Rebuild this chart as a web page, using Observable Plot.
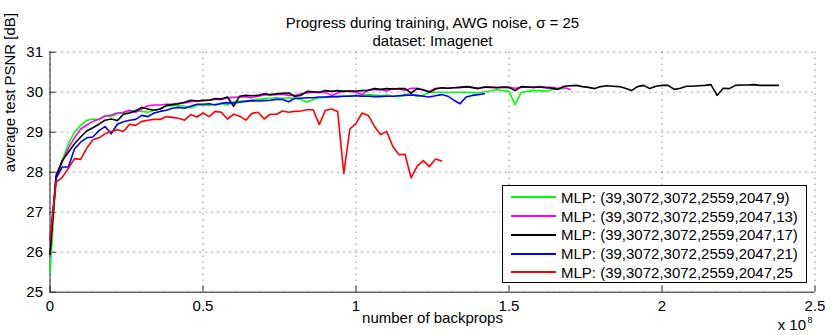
<!DOCTYPE html>
<html><head><meta charset="utf-8">
<script src="https://cdn.jsdelivr.net/npm/d3@7"></script>
<script src="https://cdn.jsdelivr.net/npm/@observablehq/plot@0.6"></script>
<style>
body{margin:0;background:#fff;font-family:"Liberation Sans",Arial,sans-serif;}
#wrap{position:relative;width:830px;height:335px;overflow:hidden;}
#legend{position:absolute;left:502px;top:185px;width:303px;height:96px;border:1px solid #000;background:#fff;}
.row{position:absolute;left:0;height:19px;display:flex;align-items:center;font-size:15px;white-space:nowrap;color:#000;}
.sw{width:45px;height:2px;margin-left:8px;margin-right:5px;}
</style></head><body><div id="wrap"></div>
<script>
// sampling interval of the evaluations (backprops)
const STEP = 2e6;

const seriesNames = [
  "MLP: (39,3072,3072,2559,2047,9)",
  "MLP: (39,3072,3072,2559,2047,13)",
  "MLP: (39,3072,3072,2559,2047,17)",
  "MLP: (39,3072,3072,2559,2047,21)",
  "MLP: (39,3072,3072,2559,2047,25"
];
const seriesColors = ["#00ff00", "#ff00ff", "#000000", "#0000ff", "#ff0000"];

const green = [25.5,27.85,28.3,28.71,29.0,29.17,29.29,29.33,29.31,29.42,29.39,29.46,29.48,29.52,29.55,29.52,29.5,29.55,29.58,29.65,
  29.66,29.67,29.65,29.61,29.67,29.68,29.67,29.7,29.72,29.68,29.76,29.78,29.78,29.8,29.82,29.84,29.85,29.86,29.85,29.86,
  29.84,29.82,29.75,29.82,29.86,29.87,29.88,29.89,29.9,29.91,29.92,29.92,29.94,29.93,29.91,29.93,29.9,29.89,29.95,29.96,
  29.89,29.93,30.0,30.0,30.0,29.99,30.0,30.0,30.0,29.99,29.98,30.01,30.03,30.06,30.04,30.02,29.69,30.0,30.02,30.04,
  30.04,30.02,30.06,30.08,30.09];

const magenta = [25.9,27.95,28.25,28.6,28.86,29.08,29.18,29.27,29.33,29.4,29.43,29.48,29.5,29.55,29.5,29.58,29.66,29.68,29.68,29.7,
  29.7,29.72,29.73,29.76,29.78,29.78,29.8,29.82,29.82,29.86,29.87,29.88,29.88,29.86,29.9,29.93,29.93,29.94,29.95,29.92,
  29.92,29.96,29.98,30.0,29.99,30.0,29.92,29.98,30.03,30.02,30.0,29.94,30.05,30.07,30.06,30.03,30.09,30.08,30.05,30.1,
  30.1,30.05,30.02,30.1,30.1,30.1,30.11,30.12,30.13,30.11,30.1,30.12,30.13,30.12,30.13,30.12,30.1,30.12,30.13,30.12,
  30.14,30.13,30.12,30.1,30.12,30.07];

const black = [25.95,27.9,28.29,28.5,28.71,28.88,29.03,29.11,29.2,29.3,29.33,29.29,29.45,29.48,29.53,29.62,29.58,29.55,29.58,29.67,
  29.69,29.71,29.75,29.8,29.78,29.8,29.8,29.84,29.83,29.88,29.65,29.9,29.92,29.91,29.92,29.96,29.94,29.96,29.97,29.98,
  29.9,29.92,30.02,30.01,30.0,30.04,30.02,30.04,30.02,30.03,30.03,30.04,30.05,30.09,30.07,30.09,30.08,30.09,30.09,29.98,
  30.09,30.06,30.0,30.08,30.11,30.1,30.11,30.12,30.14,30.12,30.09,30.13,30.12,30.11,30.12,30.12,30.04,30.14,30.13,30.12,
  30.13,30.11,30.1,30.07,30.15,30.16,30.17,30.14,30.12,30.09,30.14,30.16,30.15,30.14,30.1,30.04,30.14,30.17,30.09,30.15,
  30.17,30.17,30.07,30.1,30.15,30.15,30.16,30.17,30.19,29.92,30.1,30.09,30.17,30.18,30.18,30.19,30.17,30.17,30.17,30.17];

const blue = [26.3,27.85,28.13,28.13,28.58,28.75,28.86,28.88,29.04,29.14,28.96,29.2,29.26,29.3,29.32,29.42,29.39,29.48,29.52,29.55,
  29.6,29.62,29.6,29.65,29.7,29.7,29.71,29.68,29.72,29.74,29.73,29.75,29.77,29.79,29.78,29.79,29.8,29.82,29.82,29.76,
  29.85,29.85,29.86,29.86,29.88,29.88,29.89,29.89,29.9,29.9,29.91,29.9,29.9,29.89,29.89,29.9,29.9,29.91,29.92,29.93,
  29.92,29.9,29.88,29.91,29.94,29.9,29.8,29.71,29.88,29.92,29.94,29.96];

const red = [26.3,27.75,27.87,28.1,28.34,28.32,28.6,28.81,28.86,28.96,29.02,29.06,29.02,29.2,29.17,29.27,29.3,29.32,29.32,29.39,
  29.37,29.35,29.3,29.44,29.38,29.48,29.39,29.52,29.5,29.33,29.45,29.4,29.3,29.47,29.5,29.33,29.45,29.45,29.53,29.5,
  29.52,29.53,29.56,29.56,29.19,29.55,29.58,29.52,27.97,29.08,29.22,29.48,29.42,29.15,28.94,29.02,28.65,28.44,28.45,27.86,
  28.15,28.29,28.14,28.33,28.28];

const xTicks = [0, 0.5e8, 1e8, 1.5e8, 2e8, 2.5e8];
const yTicks = [25, 26, 27, 28, 29, 30, 31];

const titleLines = ["Progress during training, AWG noise, \u03c3 = 25", "dataset: Imagenet"];
const xLabel = "number of backprops";
const yLabel = "average test PSNR [dB]";
const xExponent = ["x 10", "8"];

const allSeries = [green, magenta, black, blue, red];
const rows = [];
allSeries.forEach((vals, s) => vals.forEach((v, i) => rows.push({series: seriesNames[s], x: i * STEP, y: v})));

const FONT = "'Liberation Sans', Arial, sans-serif";
const gridStyle = {stroke: "#555", strokeOpacity: 1, strokeWidth: 1, strokeDasharray: "1,5"};

const chart = Plot.plot({
  width: 830, height: 335,
  marginLeft: 49.5, marginRight: 15.5, marginTop: 51.7, marginBottom: 43.3,
  style: {fontFamily: FONT, fontSize: "15px", background: "white", color: "#000"},
  x: {domain: [0, 2.5e8]},
  y: {domain: [25, 31]},
  color: {domain: seriesNames, range: seriesColors},
  marks: [
    Plot.gridX(xTicks, gridStyle),
    Plot.gridY(yTicks, gridStyle),
    Plot.axisX(xTicks, {tickSize: -6, tickPadding: 14, tickFormat: d => String(d / 1e8), label: null, stroke: "#222", fontSize: 15}),
    Plot.axisY(yTicks, {tickSize: -6, tickPadding: 13, tickFormat: d => String(d), label: null, stroke: "#222", fontSize: 15}),
    Plot.ruleX([0], {stroke: "#222"}),
    Plot.ruleY([25], {stroke: "#222"}),
    Plot.line(rows, {x: "x", y: "y", z: "series", stroke: "series", strokeWidth: 1.6}),
    Plot.text([titleLines[0]], {text: d => d, frameAnchor: "top", dy: -35, fontSize: 15}),
    Plot.text([titleLines[1]], {text: d => d, frameAnchor: "top", dy: -17, fontSize: 15}),
    Plot.text([xLabel], {text: d => d, frameAnchor: "bottom", dy: 31, fontSize: 15}),
    Plot.text([yLabel], {text: d => d, frameAnchor: "left", dx: -39.5, rotate: -90, fontSize: 15}),
    Plot.text([xExponent[0]], {text: d => d, frameAnchor: "bottom-right", textAnchor: "end", dx: -9, dy: 37.5, fontSize: 15}),
    Plot.text([xExponent[1]], {text: d => d, frameAnchor: "bottom-right", textAnchor: "start", dx: -7.5, dy: 30.5, fontSize: 9})
  ]
});

const wrap = document.getElementById("wrap");
wrap.appendChild(chart);

const legend = d3.select(wrap).append("div").attr("id", "legend");
seriesNames.forEach((name, i) => {
  const r = legend.append("div").attr("class", "row").style("top", (1.8 + i * 18.75) + "px");
  r.append("div").attr("class", "sw").style("background", seriesColors[i]);
  r.append("span").text(name);
});
</script>
</body></html>
